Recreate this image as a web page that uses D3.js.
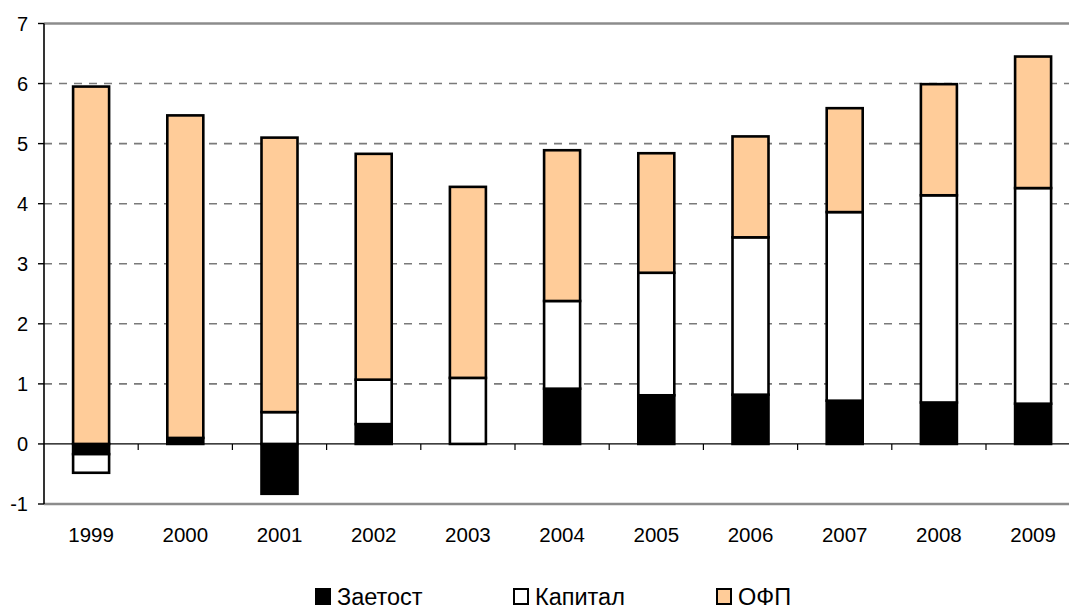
<!DOCTYPE html>
<html>
<head>
<meta charset="utf-8">
<script src="https://cdn.jsdelivr.net/npm/d3@7"></script>
<style>
  html, body { margin: 0; padding: 0; background: #fff; }
  svg { display: block; }
  text { font-family: "Liberation Sans", Arial, sans-serif; fill: #000; }
</style>
</head>
<body>
<svg id="chart" width="1069" height="612"></svg>
<script>
// Years on the category axis
const years = ["1999", "2000", "2001", "2002", "2003", "2004", "2005", "2006", "2007", "2008", "2009"];
// Contributions by factor
const zaetost = [-0.17, 0.10, -0.83, 0.33, 0.00, 0.92, 0.81, 0.82, 0.72, 0.69, 0.67];
const kapital = [-0.31, 0.00, 0.53, 0.74, 1.10, 1.46, 2.04, 2.62, 3.14, 3.45, 3.59];
const ofp     = [5.95, 5.37, 4.57, 3.76, 3.18, 2.51, 1.99, 1.68, 1.73, 1.85, 2.19];
// Series names and the value axis ticks
const seriesNames = ["Заетост", "Капитал", "ОФП"];
const yTicks = [-1, 0, 1, 2, 3, 4, 5, 6, 7];

const colors = { "Заетост": "#000000", "Капитал": "#ffffff", "ОФП": "#ffcc99" };

const svg = d3.select("#chart");
const plotLeft = 44, plotTop = 23.5, plotBottom = 504;
const band = 94.2;
const plotRight = plotLeft + band * years.length;

const x = d3.scaleBand().domain(years).range([plotLeft, plotRight]).paddingInner(0).paddingOuter(0);
const y = d3.scaleLinear().domain([-1, 7]).range([plotBottom, plotTop]);

const rows = years.map((yr, i) => ({
  year: yr,
  "Заетост": zaetost[i],
  "Капитал": kapital[i],
  "ОФП": ofp[i]
}));

const stacked = d3.stack().keys(seriesNames).offset(d3.stackOffsetDiverging)(rows);

// Gridlines
const g = svg.append("g");
yTicks.forEach(t => {
  if (t === 0) return;
  const edge = (t === 7 || t === -1);
  g.append("line")
    .attr("x1", plotLeft).attr("x2", 1069)
    .attr("y1", y(t)).attr("y2", y(t))
    .attr("stroke", edge ? "#8c8c8c" : "#7a7a7a")
    .attr("stroke-width", edge ? 2.5 : 1.6)
    .attr("stroke-dasharray", edge ? null : "8,7");
});

// Bars
const barW = 36;
svg.append("g").selectAll("g")
  .data(stacked)
  .join("g")
  .attr("fill", d => colors[d.key])
  .selectAll("rect")
  .data(d => d)
  .join("rect")
  .attr("x", d => x(d.data.year) + band / 2 - barW / 2)
  .attr("width", barW)
  .attr("y", d => y(Math.max(d[0], d[1])))
  .attr("height", d => Math.abs(y(d[0]) - y(d[1])))
  .attr("stroke", "#000")
  .attr("stroke-width", 2.6);

// Zero axis with category ticks
const xAxis = svg.append("g");
xAxis.append("line")
  .attr("x1", plotLeft).attr("x2", 1069)
  .attr("y1", y(0)).attr("y2", y(0))
  .attr("stroke", "#000").attr("stroke-width", 1.2);
years.forEach((yr, i) => {
  if (i === 0) return;
  const xx = x(yr);
  xAxis.append("line")
    .attr("x1", xx).attr("x2", xx)
    .attr("y1", y(0)).attr("y2", y(0) + 6)
    .attr("stroke", "#000").attr("stroke-width", 1.2);
});

// Category labels
svg.append("g").selectAll("text")
  .data(years)
  .join("text")
  .attr("x", d => x(d) + band / 2)
  .attr("y", 542)
  .attr("text-anchor", "middle")
  .attr("font-size", 20.5)
  .text(d => d);

// Value axis
const yAxis = svg.append("g");
yAxis.append("line")
  .attr("x1", plotLeft).attr("x2", plotLeft)
  .attr("y1", plotTop).attr("y2", plotBottom)
  .attr("stroke", "#000").attr("stroke-width", 1.6);
yTicks.forEach(t => {
  yAxis.append("line")
    .attr("x1", plotLeft - 6).attr("x2", plotLeft)
    .attr("y1", y(t)).attr("y2", y(t))
    .attr("stroke", "#000").attr("stroke-width", 1.4);
  yAxis.append("text")
    .attr("x", 28)
    .attr("y", y(t))
    .attr("dy", "0.36em")
    .attr("text-anchor", "end")
    .attr("font-size", 20)
    .text(t);
});

// Legend
const legendX = [316, 514, 717];
const legend = svg.append("g");
seriesNames.forEach((name, i) => {
  legend.append("rect")
    .attr("x", legendX[i]).attr("y", 589)
    .attr("width", 14).attr("height", 15)
    .attr("fill", colors[name])
    .attr("stroke", "#000").attr("stroke-width", 2);
  legend.append("text")
    .attr("x", legendX[i] + 21)
    .attr("y", 605)
    .attr("font-size", 23.5)
    .text(name);
});
</script>
</body>
</html>
